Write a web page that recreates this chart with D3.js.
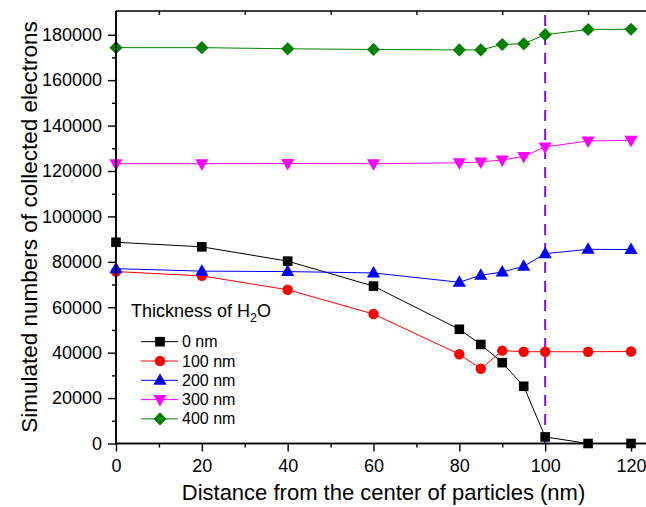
<!DOCTYPE html>
<html>
<head>
<meta charset="utf-8">
<script src="https://cdn.jsdelivr.net/npm/d3@7"></script>
<style>
  html, body { margin: 0; padding: 0; background: #fff; }
  svg { display: block; font-family: "Liberation Sans", Arial, sans-serif; }
</style>
</head>
<body>
<svg id="chart" width="646" height="507"></svg>
<script>
// ---- data ----
const distances = [0, 20, 40, 60, 80, 85, 90, 95, 100, 110, 120];
const seriesNames = ["0 nm", "100 nm", "200 nm", "300 nm", "400 nm"];
const s0nm   = [88600, 86600, 80300, 69300, 50300, 43600, 35600, 25200, 2900, 0, 0];
const s100nm = [75700, 73800, 67700, 57000, 39300, 32900, 40900, 40400, 40400, 40400, 40500];
const s200nm = [77000, 75900, 75700, 75100, 71000, 74100, 75500, 78000, 83600, 85500, 85400];
const s300nm = [123200, 123200, 123300, 123200, 123600, 124000, 124800, 126400, 130600, 133200, 133500];
const s400nm = [174300, 174300, 173800, 173500, 173300, 173300, 175700, 176000, 180000, 182300, 182400];
const xTicks = [0, 20, 40, 60, 80, 100, 120];
const yTicks = [0, 20000, 40000, 60000, 80000, 100000, 120000, 140000, 160000, 180000];
const dashedX = 100;

const colors = ["#000000", "#ff0000", "#0000ff", "#ff00ff", "#008000"];
const shapes = ["square", "circle", "triangleUp", "triangleDown", "diamond"];
const allSeries = [s0nm, s100nm, s200nm, s300nm, s400nm];

// ---- layout ----
const svg = d3.select("#chart");
const plotLeft = 116, plotTop = 11, plotBottom = 443.5;
const x = d3.scaleLinear().domain([0, 124]).range([plotLeft, plotLeft + 124 * 4.2917]);
const y = d3.scaleLinear().domain([0, 190000]).range([plotBottom, 12]);

function markerPath(shape) {
  switch (shape) {
    case "square": return "M-4.8,-4.8H4.8V4.8H-4.8Z";
    case "circle": return "M5.2,0A5.2,5.2 0 1,1 -5.2,0A5.2,5.2 0 1,1 5.2,0Z";
    case "triangleUp": return "M0,-7L6.6,4.5L-6.6,4.5Z";
    case "triangleDown": return "M0,7L6.6,-4.5L-6.6,-4.5Z";
    case "diamond": return "M0,-6.6L6.6,0L0,6.6L-6.6,0Z";
  }
}

// ---- dashed line ----
svg.append("line")
  .attr("x1", x(dashedX)).attr("x2", x(dashedX))
  .attr("y1", plotTop + 4).attr("y2", plotBottom)
  .attr("stroke", "#7a10ee").attr("stroke-width", 2)
  .attr("stroke-dasharray", "11,8");

// ---- series ----
const line = d3.line().x((d, i) => x(distances[i])).y(d => y(d));
allSeries.forEach((vals, si) => {
  const g = svg.append("g");
  g.append("path").datum(vals)
    .attr("d", line).attr("fill", "none")
    .attr("stroke", colors[si]).attr("stroke-width", 1);
  g.selectAll("path.m").data(vals).enter().append("path")
    .attr("class", "m")
    .attr("transform", (d, i) => `translate(${x(distances[i])},${y(d)})`)
    .attr("d", markerPath(shapes[si]))
    .attr("fill", colors[si]);
});

// ---- axes ----
const xAxisG = svg.append("g").attr("transform", `translate(0,${plotBottom})`);
xAxisG.call(d3.axisBottom(x).tickValues(d3.range(10, 124, 20)).tickSize(4).tickFormat(""));
xAxisG.append("g").call(d3.axisBottom(x).tickValues(xTicks).tickSize(8).tickPadding(8).tickFormat(d3.format("d")));
xAxisG.selectAll(".domain").attr("stroke", "#000").attr("stroke-width", 1.6).attr("d", `M${plotLeft},0H646`);
xAxisG.selectAll(".tick line").attr("stroke-width", 1.4);
xAxisG.selectAll("text").attr("font-size", "18px").attr("fill", "#000")
  .attr("font-family", "Liberation Sans, Arial, sans-serif");

const yAxisG = svg.append("g").attr("transform", `translate(${plotLeft},0)`);
yAxisG.call(d3.axisLeft(y).tickValues(d3.range(10000, 190000, 20000)).tickSize(4).tickFormat(""));
yAxisG.append("g").call(d3.axisLeft(y).tickValues(yTicks).tickSize(8).tickPadding(6).tickFormat(d3.format("d")));
yAxisG.selectAll(".domain").attr("stroke", "#000").attr("stroke-width", 1.6).attr("d", `M0,${plotBottom}V${plotTop}`);
yAxisG.selectAll(".tick line").attr("stroke-width", 1.4);
yAxisG.selectAll("text").attr("font-size", "18px").attr("fill", "#000")
  .attr("font-family", "Liberation Sans, Arial, sans-serif");

// top axis (ticks inward at odd tens)
const topG = svg.append("g").attr("transform", `translate(0,${plotTop})`);
topG.call(d3.axisTop(x).tickValues(d3.range(10, 124, 20)).tickSize(-4).tickFormat(""));
topG.selectAll(".domain").attr("stroke", "#000").attr("stroke-width", 1.6).attr("d", `M${plotLeft},0H646`);
topG.selectAll(".tick line").attr("stroke-width", 1.4);

// ---- axis titles ----
svg.append("text")
  .attr("x", 383.5).attr("y", 500)
  .attr("text-anchor", "middle").attr("font-size", "22px")
  .text("Distance from the center of particles (nm)");
svg.append("text")
  .attr("transform", "translate(37,227) rotate(-90)")
  .attr("text-anchor", "middle").attr("font-size", "22.5px")
  .text("Simulated numbers of collected electrons");

// ---- legend ----
const leg = svg.append("g");
const lt = leg.append("text").attr("x", 131).attr("y", 317).attr("font-size", "18px");
lt.append("tspan").text("Thickness of H");
lt.append("tspan").attr("font-size", "12.5px").attr("dy", 5).text("2");
lt.append("tspan").attr("dy", -5).text("O");
seriesNames.forEach((name, i) => {
  const cy = 341.7 + i * 19.3;
  leg.append("line").attr("x1", 141).attr("x2", 178).attr("y1", cy).attr("y2", cy)
    .attr("stroke", colors[i]).attr("stroke-width", 1);
  leg.append("path").attr("transform", `translate(160,${cy})`)
    .attr("d", markerPath(shapes[i])).attr("fill", colors[i]);
  leg.append("text").attr("x", 182).attr("y", cy + 5.5).attr("font-size", "16px").text(name);
});
</script>
</body>
</html>
